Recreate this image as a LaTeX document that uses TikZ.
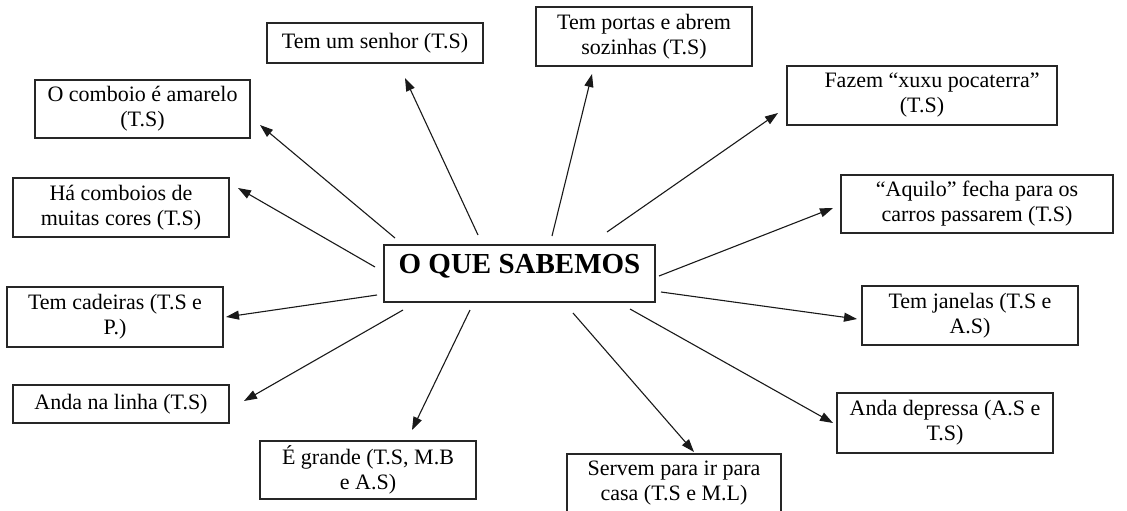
\documentclass[tikz,border=0pt]{standalone}
\usepackage{fontspec}
\setmainfont{Liberation Serif}
\usetikzlibrary{arrows.meta}
\begin{document}
\begin{tikzpicture}[x=1pt,y=-1pt,
  box/.style={draw=black!85, line width=1.3pt, inner sep=0pt, align=center,
    font=\fontsize{22}{25}\selectfont},
  arr/.style={draw=black!90, line width=1.1pt, -{Triangle[length=13pt,width=9pt]}}]
\useasboundingbox (0,0) rectangle (1127,511);
\begin{scope}
\clip (0,0) rectangle (1127,511);
% central node
\node[box, minimum width=271pt, minimum height=57pt, font=\fontsize{29}{32}\selectfont\bfseries,
  text height=20pt, text depth=20pt] (c) at (519.5,273.5) {O QUE SABEMOS};
% leaves
\node[box, minimum width=216pt, minimum height=40pt] (senhor) at (375,43) {Tem um senhor (T.S)};
\node[box, minimum width=216pt, minimum height=59pt] (portas) at (644,36.5) {Tem portas e abrem\\sozinhas (T.S)};
\node[box, minimum width=270pt, minimum height=59pt] (fazem) at (922,95.5) {\hspace*{20pt}Fazem “xuxu pocaterra”\\(T.S)};
\node[box, minimum width=272pt, minimum height=58pt] (aquilo) at (977,204) {“Aquilo” fecha para os\\carros passarem (T.S)};
\node[box, minimum width=216pt, minimum height=59pt] (janelas) at (970,315.5) {Tem janelas (T.S e\\A.S)};
\node[box, minimum width=216pt, minimum height=60pt] (depressa) at (945,423) {Anda depressa (A.S e\\T.S)};
\node[box, minimum width=214pt, minimum height=59pt] (servem) at (674,483.5) {Servem para ir para\\casa (T.S e M.L)};
\node[box, minimum width=216pt, minimum height=58pt] (grande) at (368,470) {É grande (T.S, M.B\\e A.S)};
\node[box, minimum width=216pt, minimum height=38pt] (linha) at (121,404) {Anda na linha (T.S)};
\node[box, minimum width=216pt, minimum height=60pt] (cadeiras) at (115,317) {Tem cadeiras (T.S e\\P.)};
\node[box, minimum width=216pt, minimum height=59pt] (cores) at (121,207.5) {Há comboios de\\muitas cores (T.S)};
\node[box, minimum width=215pt, minimum height=58pt] (amarelo) at (142.5,109) {O comboio é amarelo\\(T.S)};
% connector ends
\coordinate (s1) at (478,235);  \coordinate (e1) at (405,78);
\coordinate (s2) at (552,236);  \coordinate (e2) at (592,74);
\coordinate (s3) at (607,232);  \coordinate (e3) at (778,113);
\coordinate (s4) at (659,276);  \coordinate (e4) at (833,208);
\coordinate (s5) at (661,292);  \coordinate (e5) at (857,319);
\coordinate (s6) at (630,309);  \coordinate (e6) at (833,423);
\coordinate (s7) at (573,313);  \coordinate (e7) at (694,452);
\coordinate (s8) at (470,310);  \coordinate (e8) at (412,430);
\coordinate (s9) at (403,310);  \coordinate (e9) at (244,401);
\coordinate (s10) at (377,295); \coordinate (e10) at (226,317);
\coordinate (s11) at (375,267); \coordinate (e11) at (238,188);
\coordinate (s12) at (395,238); \coordinate (e12) at (260,125);
\foreach \i in {1,...,12} {\draw[arr] (s\i) -- (e\i);}
\end{scope}
\end{tikzpicture}
\end{document}
